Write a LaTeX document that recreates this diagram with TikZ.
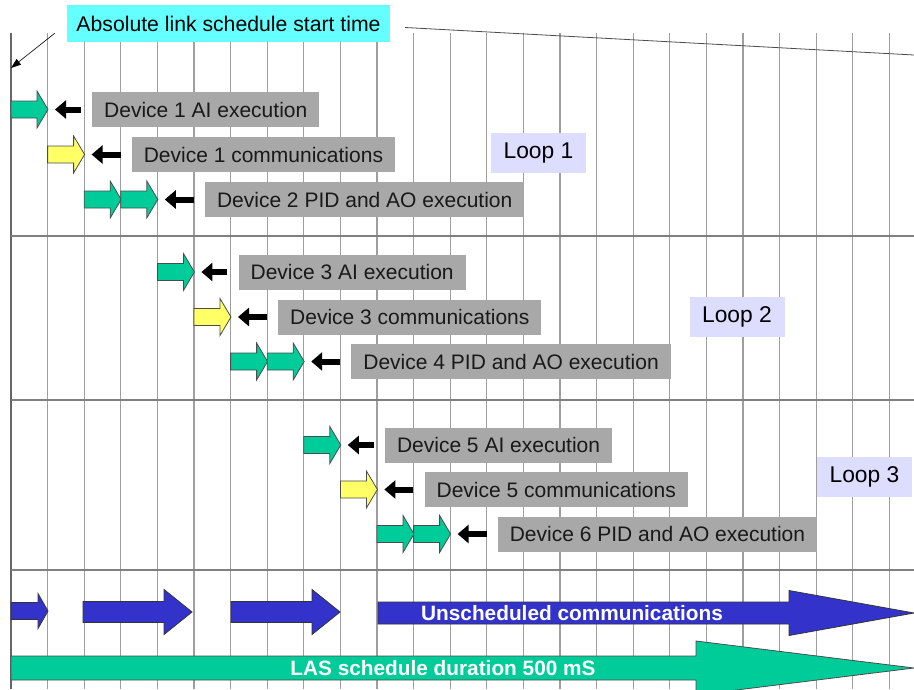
\documentclass[tikz,border=0pt]{standalone}
\usepackage{fontspec}
\setmainfont{Liberation Sans}
\usetikzlibrary{arrows.meta,positioning}
\definecolor{taskgreen}{RGB}{0,204,153}
\definecolor{commyellow}{RGB}{255,255,102}
\definecolor{freeblue}{RGB}{51,51,204}
\definecolor{boxgray}{RGB}{168,168,168}
\definecolor{looplilac}{RGB}{221,221,255}
\definecolor{startcyan}{RGB}{102,255,255}
% block arrow: [style](x,y)(length:head base:shaft half:head half)
\def\blockarrow[#1](#2,#3)(#4:#5:#6:#7){\draw[#1] (#2,#3-#6) -- (#2+#5,#3-#6) -- (#2+#5,#3-#7) -- (#2+#4,#3) -- (#2+#5,#3+#7) -- (#2+#5,#3+#6) -- (#2,#3+#6) -- cycle;}
\tikzset{
  gridline/.style={line width=1.2pt, color=black!38},
  sepline/.style={line width=2pt, color=black!50},
  taskbox/.style={fill=boxgray, text=black!90, minimum height=35pt, inner xsep=12pt, inner ysep=0pt, font=\fontsize{21}{25}\selectfont},
  loopbox/.style={fill=looplilac, minimum width=95pt, minimum height=40pt, font=\fontsize{22.8}{27}\selectfont},
  pointer/.style={-{Triangle[length=11pt,width=18pt]}, line width=6pt, shorten <=11pt},
  execarrow/.style={fill=taskgreen, draw=black!70, line width=0.8pt},
  commarrow/.style={fill=commyellow, draw=black!70, line width=0.8pt},
  freearrow/.style={fill=freeblue, draw=black!80, line width=0.8pt},
  bartext/.style={text=white, font=\fontsize{20.8}{25}\selectfont\bfseries}
}

\begin{document}
\begin{tikzpicture}[x=1pt, y=-1pt]
  %%%%% START %%%%%
  \useasboundingbox (0,0) rectangle (914,689);

  \draw[gridline] (47.6,33) -- (47.6,689) (84.2,33) -- (84.2,689) (120.8,33) -- (120.8,689) (157.4,33) -- (157.4,689);
  \draw[gridline] (194,33) -- (194,689) (230.6,33) -- (230.6,689) (267.2,33) -- (267.2,689) (303.8,33) -- (303.8,689);
  \draw[gridline] (340.4,33) -- (340.4,689) (377,33) -- (377,689) (413.6,33) -- (413.6,689) (450.2,33) -- (450.2,689);
  \draw[gridline] (486.8,33) -- (486.8,689) (523.4,33) -- (523.4,689) (560,33) -- (560,689) (596.6,33) -- (596.6,689);
  \draw[gridline] (633.2,33) -- (633.2,689) (669.8,33) -- (669.8,689) (706.4,33) -- (706.4,689) (743,33) -- (743,689);
  \draw[gridline] (779.6,33) -- (779.6,689) (816.2,33) -- (816.2,689) (852.8,33) -- (852.8,689) (889.4,33) -- (889.4,689);
  \draw[line width=1.6pt, color=black!60] (11,33) -- (11,689);

  \draw[sepline] (11,236) -- (914,236);
  \draw[sepline] (11,400) -- (914,400);
  \draw[sepline] (11,570) -- (914,570);

  \node[fill=startcyan, minimum width=323pt, minimum height=37pt, font=\fontsize{21.2}{25}\selectfont] (abs) at (228.5,23.5) {Absolute link schedule start time};
  \coordinate (t0) at (11,68);
  \coordinate (rim) at (914,55);
  \draw[-{Triangle[length=10pt,width=7pt]}, line width=0.6pt] ([xshift=-12pt,yshift=9pt]abs.south west) -- (t0);
  \draw[line width=0.8pt, color=black!70] ([xshift=15pt,yshift=-4pt]abs.east) -- (rim);

  % loop 1
  \blockarrow[execarrow](11,109.5)(37:26:8.5:18.5);
  \coordinate (ai1ptr) at (55,109.5);
  \node[taskbox, right=37pt of ai1ptr] (ai1) {Device 1 AI execution};
  \draw[pointer] (ai1) -- (ai1ptr);

  \blockarrow[commarrow](47.6,154.5)(37:26:8.5:18.5);
  \coordinate (com1ptr) at (91.6,154.5);
  \node[taskbox, right=40pt of com1ptr] (com1) {Device 1 communications};
  \draw[pointer] (com1) -- (com1ptr);

  \blockarrow[execarrow](84.2,199.5)(37:26:8.5:18.5);
  \blockarrow[execarrow](120.8,199.5)(37:26:8.5:18.5);
  \coordinate (pid2ptr) at (164.8,199.5);
  \node[taskbox, right=40pt of pid2ptr] (pid2) {Device 2 PID and AO execution};
  \draw[pointer] (pid2) -- (pid2ptr);

  \node[loopbox] (loop1) at (538.5,153) {Loop 1};

  % loop 2
  \blockarrow[execarrow](157.4,272)(37:26:8.5:18.5);
  \coordinate (ai3ptr) at (201.4,272);
  \node[taskbox, right=37pt of ai3ptr] (ai3) {Device 3 AI execution};
  \draw[pointer] (ai3) -- (ai3ptr);

  \blockarrow[commarrow](194,317)(37:26:8.5:18.5);
  \coordinate (com3ptr) at (238,317);
  \node[taskbox, right=40pt of com3ptr] (com3) {Device 3 communications};
  \draw[pointer] (com3) -- (com3ptr);

  \blockarrow[execarrow](230.6,361.5)(37:26:8.5:18.5);
  \blockarrow[execarrow](267.2,361.5)(37:26:8.5:18.5);
  \coordinate (pid4ptr) at (311.2,361.5);
  \node[taskbox, right=40pt of pid4ptr] (pid4) {Device 4 PID and AO execution};
  \draw[pointer] (pid4) -- (pid4ptr);

  \node[loopbox] (loop2) at (737,317) {Loop 2};

  % loop 3
  \blockarrow[execarrow](303.8,445)(37:26:8.5:18.5);
  \coordinate (ai5ptr) at (347.8,445);
  \node[taskbox, right=37pt of ai5ptr] (ai5) {Device 5 AI execution};
  \draw[pointer] (ai5) -- (ai5ptr);

  \blockarrow[commarrow](340.4,489.5)(37:26:8.5:18.5);
  \coordinate (com5ptr) at (384.4,489.5);
  \node[taskbox, right=40pt of com5ptr] (com5) {Device 5 communications};
  \draw[pointer] (com5) -- (com5ptr);

  \blockarrow[execarrow](377,534)(37:26:8.5:18.5);
  \blockarrow[execarrow](413.6,534)(37:26:8.5:18.5);
  \coordinate (pid6ptr) at (457.6,534);
  \node[taskbox, right=40pt of pid6ptr] (pid6) {Device 6 PID and AO execution};
  \draw[pointer] (pid6) -- (pid6ptr);

  \node[loopbox] (loop3) at (864.5,477) {Loop 3};

  % bus traffic
  \blockarrow[freearrow](11,611)(37:27:8.5:17.5);
  \blockarrow[freearrow](83,612)(109:81:10.5:22.5);
  \blockarrow[freearrow](231,612)(109:81:10.5:22.5);
  \blockarrow[freearrow](378,613)(536:411:11:22.5);
  \node[bartext] (unsched) at (572,613) {Unscheduled communications};

  \blockarrow[execarrow](11,668)(903:685:12:27);
  \node[bartext] (las) at (443,668) {LAS schedule duration 500 mS};

  %%%%% END %%%%%
\end{tikzpicture}
\end{document}
